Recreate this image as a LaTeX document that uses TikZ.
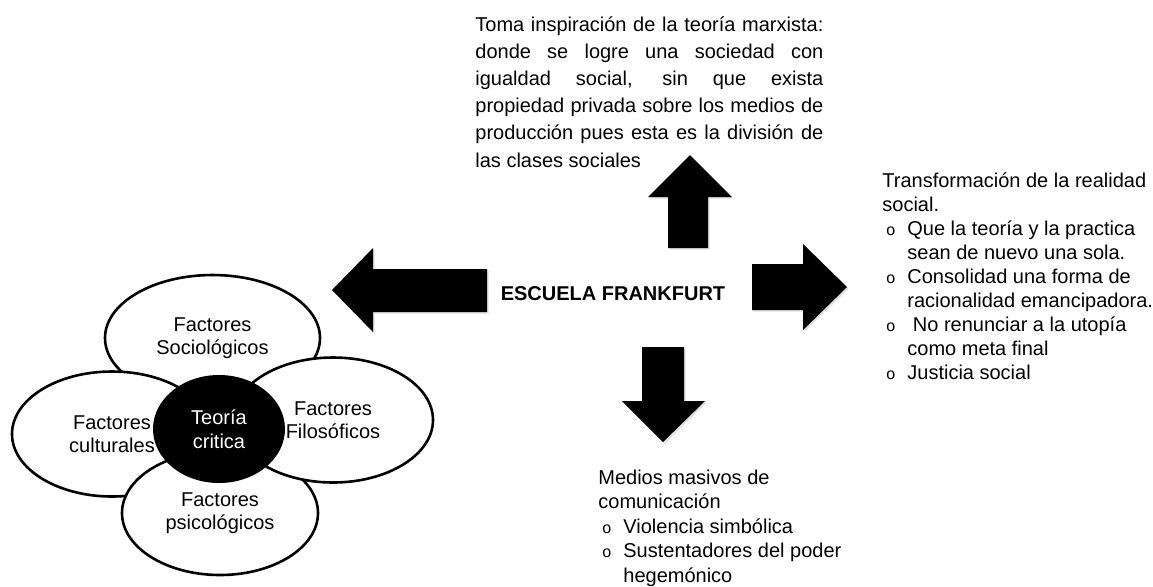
\documentclass[tikz,border=0pt]{standalone}
\usepackage{fontspec}
\setmainfont{Liberation Sans}
\usetikzlibrary{shapes.geometric, shadows}

\newcommand\jline[1]{\makebox[174pt][s]{#1}}
\newcommand\bul{\hspace*{2pt}\makebox[10.5pt][l]{\fontsize{8}{8}\selectfont o}}
\newcommand\cont{\hspace*{12.5pt}}

\begin{document}
\begin{tikzpicture}[x=0.5pt, y=-0.5pt,
    petal/.style={ellipse, draw, fill=white, line width=1.3pt, inner sep=0pt, align=center, font=\fontsize{10}{11.5}\selectfont},
    core/.style={ellipse, fill=black, text=white, inner sep=0pt, align=center, font=\fontsize{10}{12}\selectfont},
    blockarrow/.style={fill=black, drop shadow={opacity=0.25, shadow xshift=0.8pt, shadow yshift=-0.8pt}},
    note/.style={inner sep=0pt, align=left, font=\fontsize{10}{12}\selectfont}
]
\useasboundingbox (0,0) rectangle (1153,586);

% Flower
\node[petal, minimum width=107.5pt, minimum height=63pt] (socio) at (212.5,338) {Factores\\Sociológicos};
\node[petal, minimum width=100pt, minimum height=62.5pt] (cultu) at (112,434) {Factores\\culturales};
\node[petal, minimum width=98pt, minimum height=62pt] (psico) at (220,513) {Factores\\psicológicos};
\node[petal, minimum width=100pt, minimum height=62.5pt] (filo) at (333,420) {Factores\\Filosóficos};
\node[core, minimum width=66pt, minimum height=54pt] (teoria) at (219,429) {Teoría\\critica};

% Centre
\node[inner sep=0pt, font=\bfseries\fontsize{10}{12}\selectfont] (escuela) at (613,294) {ESCUELA FRANKFURT};

% Block arrows
\fill[blockarrow] (487,269) -- (373,269) -- (373,248) -- (332,290) -- (373,332) -- (373,312) -- (487,312) -- cycle;
\fill[blockarrow] (668,248) -- (668,197) -- (648,197) -- (690,155) -- (732,197) -- (708,197) -- (708,248) -- cycle;
\fill[blockarrow] (752,264) -- (803,264) -- (803,244) -- (847,287) -- (803,330) -- (803,310) -- (752,310) -- cycle;
\fill[blockarrow] (642,347) -- (684,347) -- (684,401) -- (705,401) -- (663,442) -- (622,401) -- (642,401) -- cycle;

% Texts (base = last line)
\node[note, anchor=base west, font=\fontsize{10}{13.6}\selectfont] (marx) at (475,167) {%
  \jline{Toma inspiración de la teoría marxista:}\\
  \jline{donde se logre una sociedad con}\\
  \jline{igualdad social, sin que exista}\\
  \jline{propiedad privada sobre los medios de}\\
  \jline{producción pues esta es la división de}\\
  las clases sociales};
\node[note, anchor=base west] (transf) at (882,379) {%
  Transformación de la realidad\\
  social.\\
  \bul Que la teoría y la practica\\
  \cont sean de nuevo una sola.\\
  \bul Consolidad una forma de\\
  \cont racionalidad emancipadora.\\
  \bul\ No renunciar a la utopía\\
  \cont como meta final\\
  \bul Justicia social};
\node[note, anchor=base west, font=\fontsize{10}{12.2}\selectfont] (medios) at (598,582) {%
  Medios masivos de\\
  comunicación\\
  \bul Violencia simbólica\\
  \bul Sustentadores del poder\\
  \cont hegemónico};

\end{tikzpicture}
\end{document}
